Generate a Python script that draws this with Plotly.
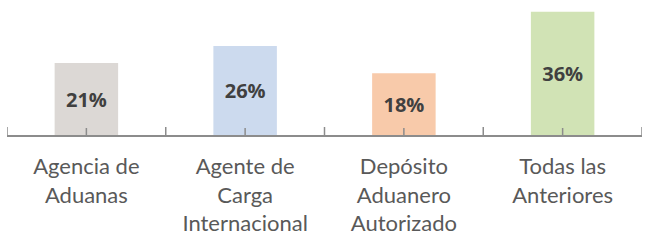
import plotly.graph_objects as go

categories = ["Agencia de<br>Aduanas", "Agente de<br>Carga<br>Internacional",
              "Depósito<br>Aduanero<br>Autorizado", "Todas las<br>Anteriores"]
values = [21, 26, 18, 36]
labels = ["21%", "26%", "18%", "36%"]
colors = ["#DCD8D5", "#CCDAEE", "#F8CAAA", "#D1E3B5"]

x_idx = list(range(len(categories)))

fig = go.Figure()
fig.add_trace(go.Bar(
    x=x_idx, y=values, width=0.4,
    marker=dict(color=colors, line=dict(width=0)),
    text=labels, textposition="inside", insidetextanchor="middle",
    textfont=dict(family="Open Sans", size=20, color="#404040", weight="bold"),
    textangle=0, hoverinfo="skip", cliponaxis=False,
))

axis_color = "#8C8C8C"
shapes = []
# boundary ticks (crossing axis line)
for b in [i - 0.5 for i in x_idx] + [x_idx[-1] + 0.5]:
    shapes.append(dict(type="line", xref="x", yref="y", ysizemode="pixel", yanchor=0,
                       x0=b, x1=b, y0=-8, y1=8, line=dict(color=axis_color, width=1.5)))
# center ticks
for c in x_idx:
    shapes.append(dict(type="line", xref="x", yref="y", ysizemode="pixel", yanchor=0,
                       x0=c, x1=c, y0=-6, y1=7, line=dict(color=axis_color, width=1.5)))

fig.update_layout(
    width=650, height=251,
    margin=dict(l=7, r=8, t=0, b=116, autoexpand=False),
    paper_bgcolor="white", plot_bgcolor="white",
    showlegend=False,
    shapes=shapes,
    xaxis=dict(
        range=[-0.5, 3.5], tickmode="array", tickvals=x_idx, ticktext=categories,
        showline=True, linecolor=axis_color, linewidth=1.5, ticks="",
        tickfont=dict(family="Lato", size=22, color="#595959"),
        ticklabelstandoff=11,
        showgrid=False, zeroline=False, fixedrange=True, automargin=False,
    ),
    yaxis=dict(range=[0, 39.4], visible=False, showgrid=False, zeroline=False,
               fixedrange=True, automargin=False),
    uniformtext=dict(mode=False),
)

fig.write_html("out.html", config={"displayModeBar": False, "staticPlot": True},
               post_script="document.body.style.margin='0';document.body.style.overflow='hidden';")
